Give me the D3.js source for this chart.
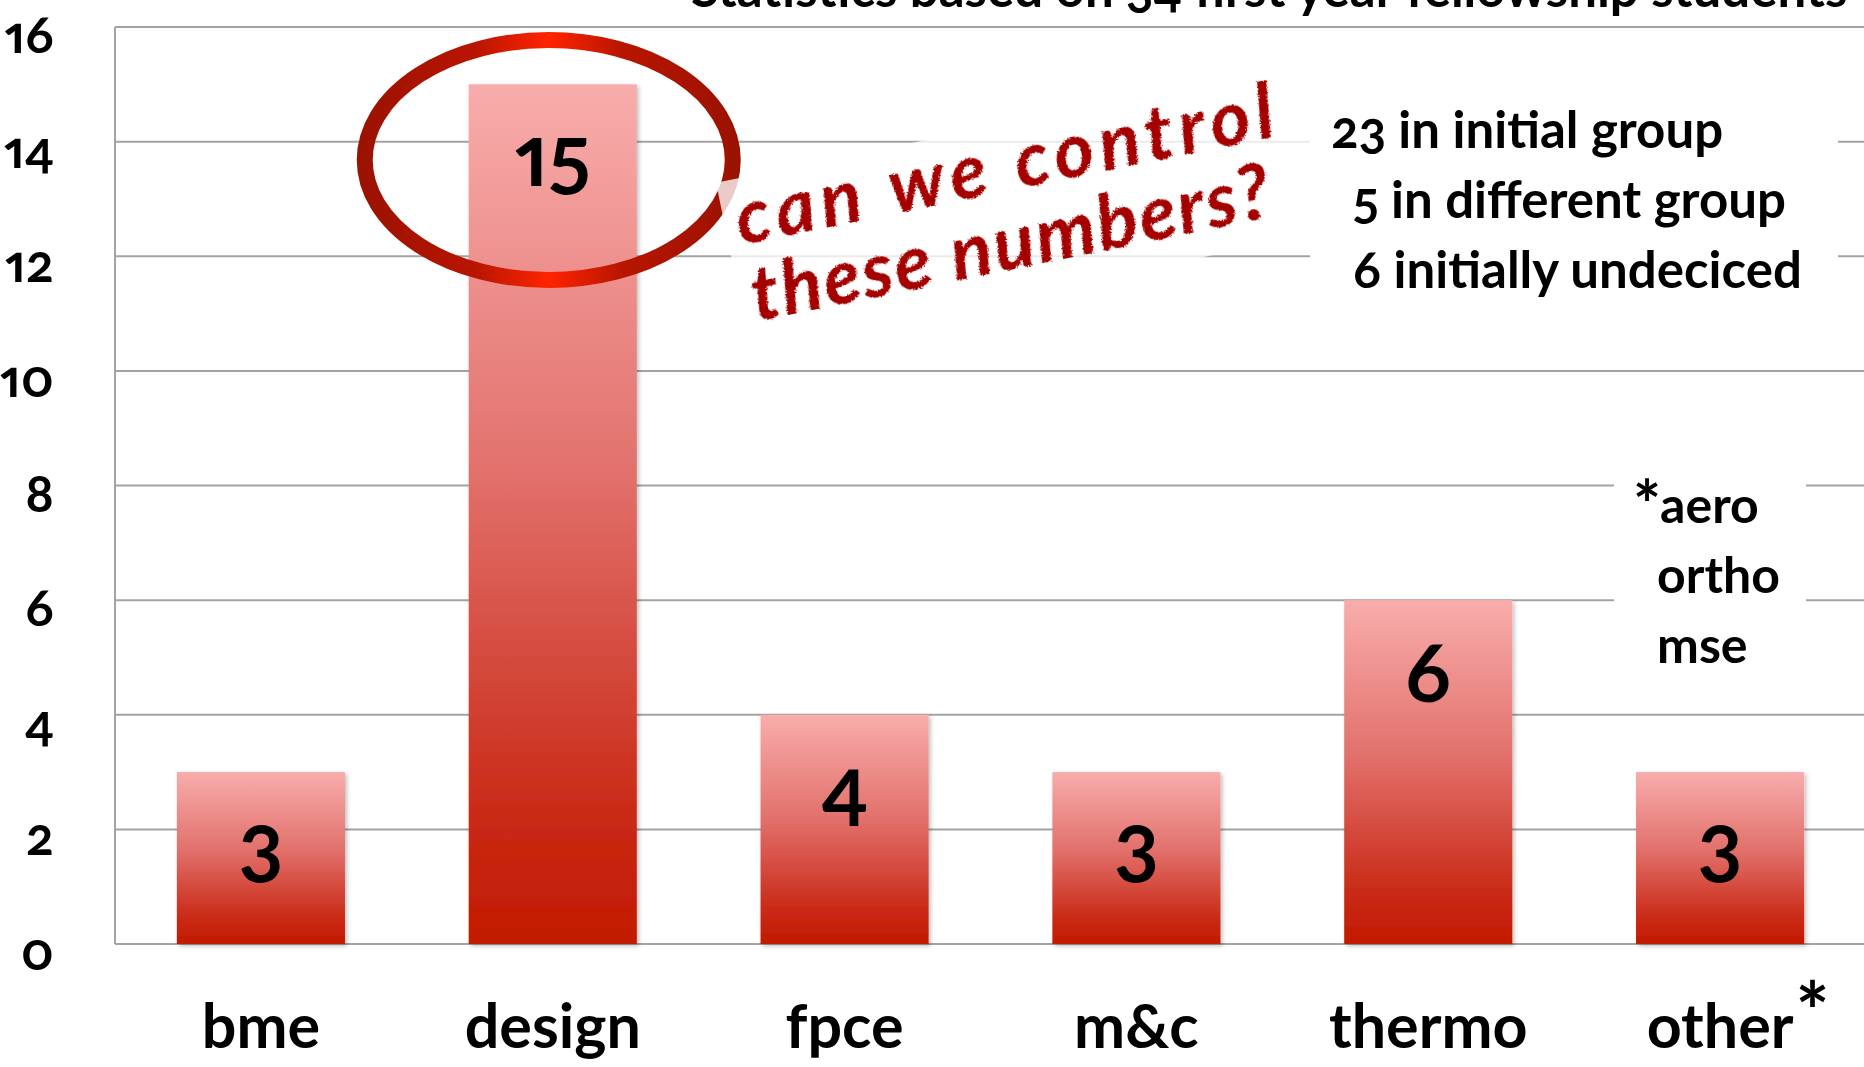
<!DOCTYPE html>
<html>
<head>
<meta charset="utf-8">
<script src="https://cdnjs.cloudflare.com/ajax/libs/d3/7.8.5/d3.min.js"></script>
<style>
  html, body { margin: 0; padding: 0; background: #ffffff; overflow: hidden; }
  svg text { font-family: Lato, "Open Sans", sans-serif; font-weight: 700; fill: #000; }
  .num { font-variant-numeric: oldstyle-nums proportional-nums; }
</style>
</head>
<body>
<div id="chart"></div>
<script>
// data
var categories = ["bme", "design", "fpce", "m&c", "thermo", "other"];
var counts = [3, 15, 4, 3, 6, 3];
var yTicks = [0, 2, 4, 6, 8, 10, 12, 14, 16];
var groupNotes = ["23 in initial group", "5 in different group", "6 initially undeciced"];
var otherNotes = ["*aero", "ortho", "mse"];
var titleText = "Statistics based on 34 first year fellowship students";
var questionLines = ["can we control", "these numbers?"];

var width = 1864;
var height = 1067;

// plot area (note: "top" is taken by window.top, so use plot* names)
var plotLeft = 115;
var plotRight = 1866;
var plotTop = 27;
var plotBottom = 944;

var svg = d3.select("#chart")
    .append("svg")
    .attr("width", width)
    .attr("height", height);

var defs = svg.append("defs");

// bar gradient, light pink at the top to deep red at the bottom
var barGrad = defs.append("linearGradient")
    .attr("id", "barGrad")
    .attr("x1", 0).attr("y1", 0).attr("x2", 0).attr("y2", 1);
barGrad.append("stop").attr("offset", "0%").attr("stop-color", "#f8adac");
barGrad.append("stop").attr("offset", "45%").attr("stop-color", "#e2716c");
barGrad.append("stop").attr("offset", "85%").attr("stop-color", "#c92a16");
barGrad.append("stop").attr("offset", "100%").attr("stop-color", "#c21a00");

// ring gradient: dark on the sides, bright in the middle
var ringGrad = defs.append("linearGradient")
    .attr("id", "ringGrad")
    .attr("x1", 0).attr("y1", 0).attr("x2", 1).attr("y2", 0);
ringGrad.append("stop").attr("offset", "0%").attr("stop-color", "#9c1200");
ringGrad.append("stop").attr("offset", "30%").attr("stop-color", "#b81500");
ringGrad.append("stop").attr("offset", "50%").attr("stop-color", "#ff2400");
ringGrad.append("stop").attr("offset", "70%").attr("stop-color", "#b81500");
ringGrad.append("stop").attr("offset", "100%").attr("stop-color", "#9c1200");

// soft shadow for the bars
var shadow = defs.append("filter")
    .attr("id", "shadow")
    .attr("x", "-10%").attr("y", "-10%").attr("width", "130%").attr("height", "130%");
shadow.append("feDropShadow")
    .attr("dx", 2).attr("dy", 2)
    .attr("stdDeviation", 2)
    .attr("flood-color", "#000")
    .attr("flood-opacity", 0.25);

// rough marker look for the handwritten note
var rough = defs.append("filter").attr("id", "rough");
rough.append("feTurbulence")
    .attr("type", "fractalNoise")
    .attr("baseFrequency", 0.7)
    .attr("numOctaves", 2)
    .attr("result", "noise");
rough.append("feDisplacementMap")
    .attr("in", "SourceGraphic")
    .attr("in2", "noise")
    .attr("scale", 4);

// scales
var x = d3.scaleBand()
    .domain(categories)
    .range([plotLeft, plotRight])
    .paddingInner(0.424)
    .paddingOuter(0.212);

var y = d3.scaleLinear()
    .domain([0, 16])
    .range([plotBottom, plotTop]);

// title, clipped by the top of the page
svg.append("text")
    .attr("x", 691)
    .attr("y", 7)
    .attr("font-size", 51)
    .attr("class", "num")
    .text(titleText);

// gridlines
svg.append("g")
    .selectAll("line")
    .data(yTicks)
    .join("line")
    .attr("x1", plotLeft)
    .attr("x2", plotRight)
    .attr("y1", function(d) { return y(d); })
    .attr("y2", function(d) { return y(d); })
    .attr("stroke", "#a3a3a3")
    .attr("stroke-width", 2);

// left axis line
svg.append("line")
    .attr("x1", plotLeft).attr("x2", plotLeft)
    .attr("y1", plotTop).attr("y2", plotBottom)
    .attr("stroke", "#a3a3a3")
    .attr("stroke-width", 2);

// y tick labels
svg.append("g")
    .selectAll("text")
    .data(yTicks)
    .join("text")
    .attr("class", "num")
    .attr("x", 54)
    .attr("y", function(d) { return y(d) + 26; })
    .attr("text-anchor", "end")
    .attr("font-size", 52)
    .text(function(d) { return d; });

// bars
svg.append("g")
    .selectAll("rect")
    .data(counts)
    .join("rect")
    .attr("x", function(d, i) { return x(categories[i]); })
    .attr("y", function(d) { return y(d); })
    .attr("width", x.bandwidth())
    .attr("height", function(d) { return y(0) - y(d); })
    .attr("fill", "url(#barGrad)")
    .attr("filter", "url(#shadow)");

// value labels inside the bars
svg.append("g")
    .selectAll("text")
    .data(counts)
    .join("text")
    .attr("class", "num")
    .attr("x", function(d, i) { return x(categories[i]) + x.bandwidth() / 2; })
    .attr("y", function(d) { return y(d) + 102; })
    .attr("text-anchor", "middle")
    .attr("font-size", 84)
    .text(function(d) { return d; });

// category labels
var catLabels = svg.append("g")
    .selectAll("text")
    .data(categories)
    .join("text")
    .attr("x", function(d) { return x(d) + x.bandwidth() / 2; })
    .attr("y", 1048)
    .attr("text-anchor", "middle")
    .attr("font-size", 61)
    .text(function(d) { return d; });

// asterisk raised after "other"
var otherNode = catLabels.filter(function(d) { return d === "other"; }).node();
var otherW = otherNode.getComputedTextLength();
svg.append("text")
    .attr("x", x("other") + x.bandwidth() / 2 + otherW / 2 + 2)
    .attr("y", 1041)
    .attr("font-size", 80)
    .text("*");

// ring around the design bar
var cx = x("design") + x.bandwidth() / 2 - 4;
svg.append("ellipse")
    .attr("cx", cx)
    .attr("cy", 160)
    .attr("rx", 184)
    .attr("ry", 120)
    .attr("fill", "none")
    .attr("stroke", "url(#ringGrad)")
    .attr("stroke-width", 16);

// handwritten question on a faded white card
var note = svg.append("g")
    .attr("transform", "translate(741,245) rotate(-11.5)");

note.append("rect")
    .attr("x", -12)
    .attr("y", -66)
    .attr("width", 600)
    .attr("height", 170)
    .attr("fill", "#fff")
    .attr("opacity", 0.78);

note.selectAll("text")
    .data(questionLines)
    .join("text")
    .attr("x", 0)
    .attr("y", function(d, i) { return i * 78; })
    .attr("font-size", 76)
    .attr("font-style", "italic")
    .attr("font-weight", 900)
    .style("fill", "#a40000")
    .attr("textLength", function(d, i) { return i === 0 ? 548 : 528; })
    .attr("lengthAdjust", "spacing")
    .attr("filter", "url(#rough)")
    .text(function(d) { return d; });

// group breakdown on an opaque white card
svg.append("rect")
    .attr("x", 1310).attr("y", 80)
    .attr("width", 528).attr("height", 240)
    .attr("fill", "#fff");

svg.append("g")
    .selectAll("text")
    .data(groupNotes)
    .join("text")
    .attr("class", "num")
    .attr("x", function(d, i) { return i === 0 ? 1331 : 1353; })
    .attr("y", function(d, i) { return 148 + i * 70; })
    .attr("font-size", 51)
    .text(function(d) { return d; });

// what "other" covers
svg.append("rect")
    .attr("x", 1614).attr("y", 420)
    .attr("width", 192).attr("height", 260)
    .attr("fill", "#fff");

var otherText = svg.append("g")
    .selectAll("text")
    .data(otherNotes)
    .join("text")
    .attr("x", function(d, i) { return i === 0 ? 1633 : 1657; })
    .attr("y", function(d, i) { return 523 + i * 70; })
    .attr("font-size", 50);

// a leading asterisk is drawn a bit larger, like in the slide
otherText.each(function(d) {
    var t = d3.select(this);
    if (d.charAt(0) === "*") {
        t.append("tspan").attr("font-size", 66).attr("dy", 6).text("*");
        t.append("tspan").attr("dy", -6).attr("dx", -1).text(d.slice(1));
    } else {
        t.text(d);
    }
});
</script>
</body>
</html>
